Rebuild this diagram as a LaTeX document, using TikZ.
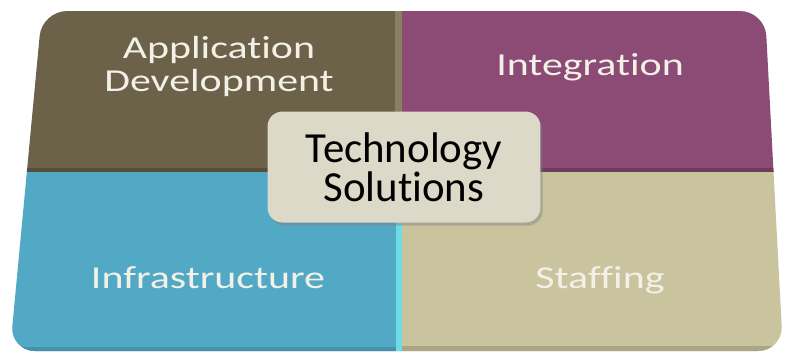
\documentclass[tikz,border=0pt]{standalone}
\usepackage{fontspec}
\setmainfont[Ligatures=NoCommon]{Carlito}
\newfontfamily\widefont[FakeStretch=1.31, Ligatures=NoCommon]{Carlito}
\usetikzlibrary{shadows}

\definecolor{appbrown}{HTML}{6B6249}
\definecolor{integpurple}{HTML}{8C4B75}
\definecolor{infrablue}{HTML}{52A9C6}
\definecolor{staffkhaki}{HTML}{C9C49E}
\definecolor{techbeige}{HTML}{DDD9C8}
\definecolor{labelwhite}{HTML}{F3F0E8}

\tikzset{
  quadlabel/.style={text=labelwhite, font=\widefont\fontsize{18.2}{18.8}\selectfont,
    align=center, inner sep=0pt},
  techbox/.style={fill=techbeige, rounded corners=0.3cm, minimum width=5.46cm,
    minimum height=2.22cm, align=center, text=black,
    font=\fontsize{24.4}{19.4}\selectfont,
    drop shadow={shadow xshift=1.2pt, shadow yshift=-1.8pt, opacity=0.45}},
}

\begin{document}
\begin{tikzpicture}[x=0.02cm, y=-0.02cm]
\useasboundingbox (0,0) rectangle (786,353);

% the four quadrants
\begin{scope}
  \clip[rounded corners=0.5cm] (42,11) -- (765,11) -- (783,351) -- (10,351) -- cycle;
  \fill[appbrown] (0,0) rectangle (402,172);
  \fill[integpurple] (402,0) rectangle (786,172);
  \fill[infrablue] (0,172) rectangle (402,353);
  \fill[staffkhaki] (402,172) rectangle (786,353);
  % bevel edges
  \fill[appbrown!70!staffkhaki] (395,0) rectangle (402,172);
  \fill[appbrown!80!black] (0,168) rectangle (395,172);
  \fill[integpurple!80!black] (402,168) rectangle (786,172);
  \fill[infrablue!60!cyan!70!white] (396,172) rectangle (402,353);
  \fill[staffkhaki!85!black] (402,346) rectangle (786,353);
  \fill[infrablue!85!black] (0,347) rectangle (396,353);
\end{scope}

\node[quadlabel] (appdev) at (219,66) {Application\\Development};
\node[quadlabel, anchor=base] (integ) at (590,75) {Integration};
\node[quadlabel, anchor=base] (infra) at (208,288) {Infrastructure};
\node[quadlabel, anchor=base] (staff) at (600,288) {Staffing};

\node[techbox] (tech) at (404,167) {Technology\\Solutions};
\end{tikzpicture}
\end{document}
